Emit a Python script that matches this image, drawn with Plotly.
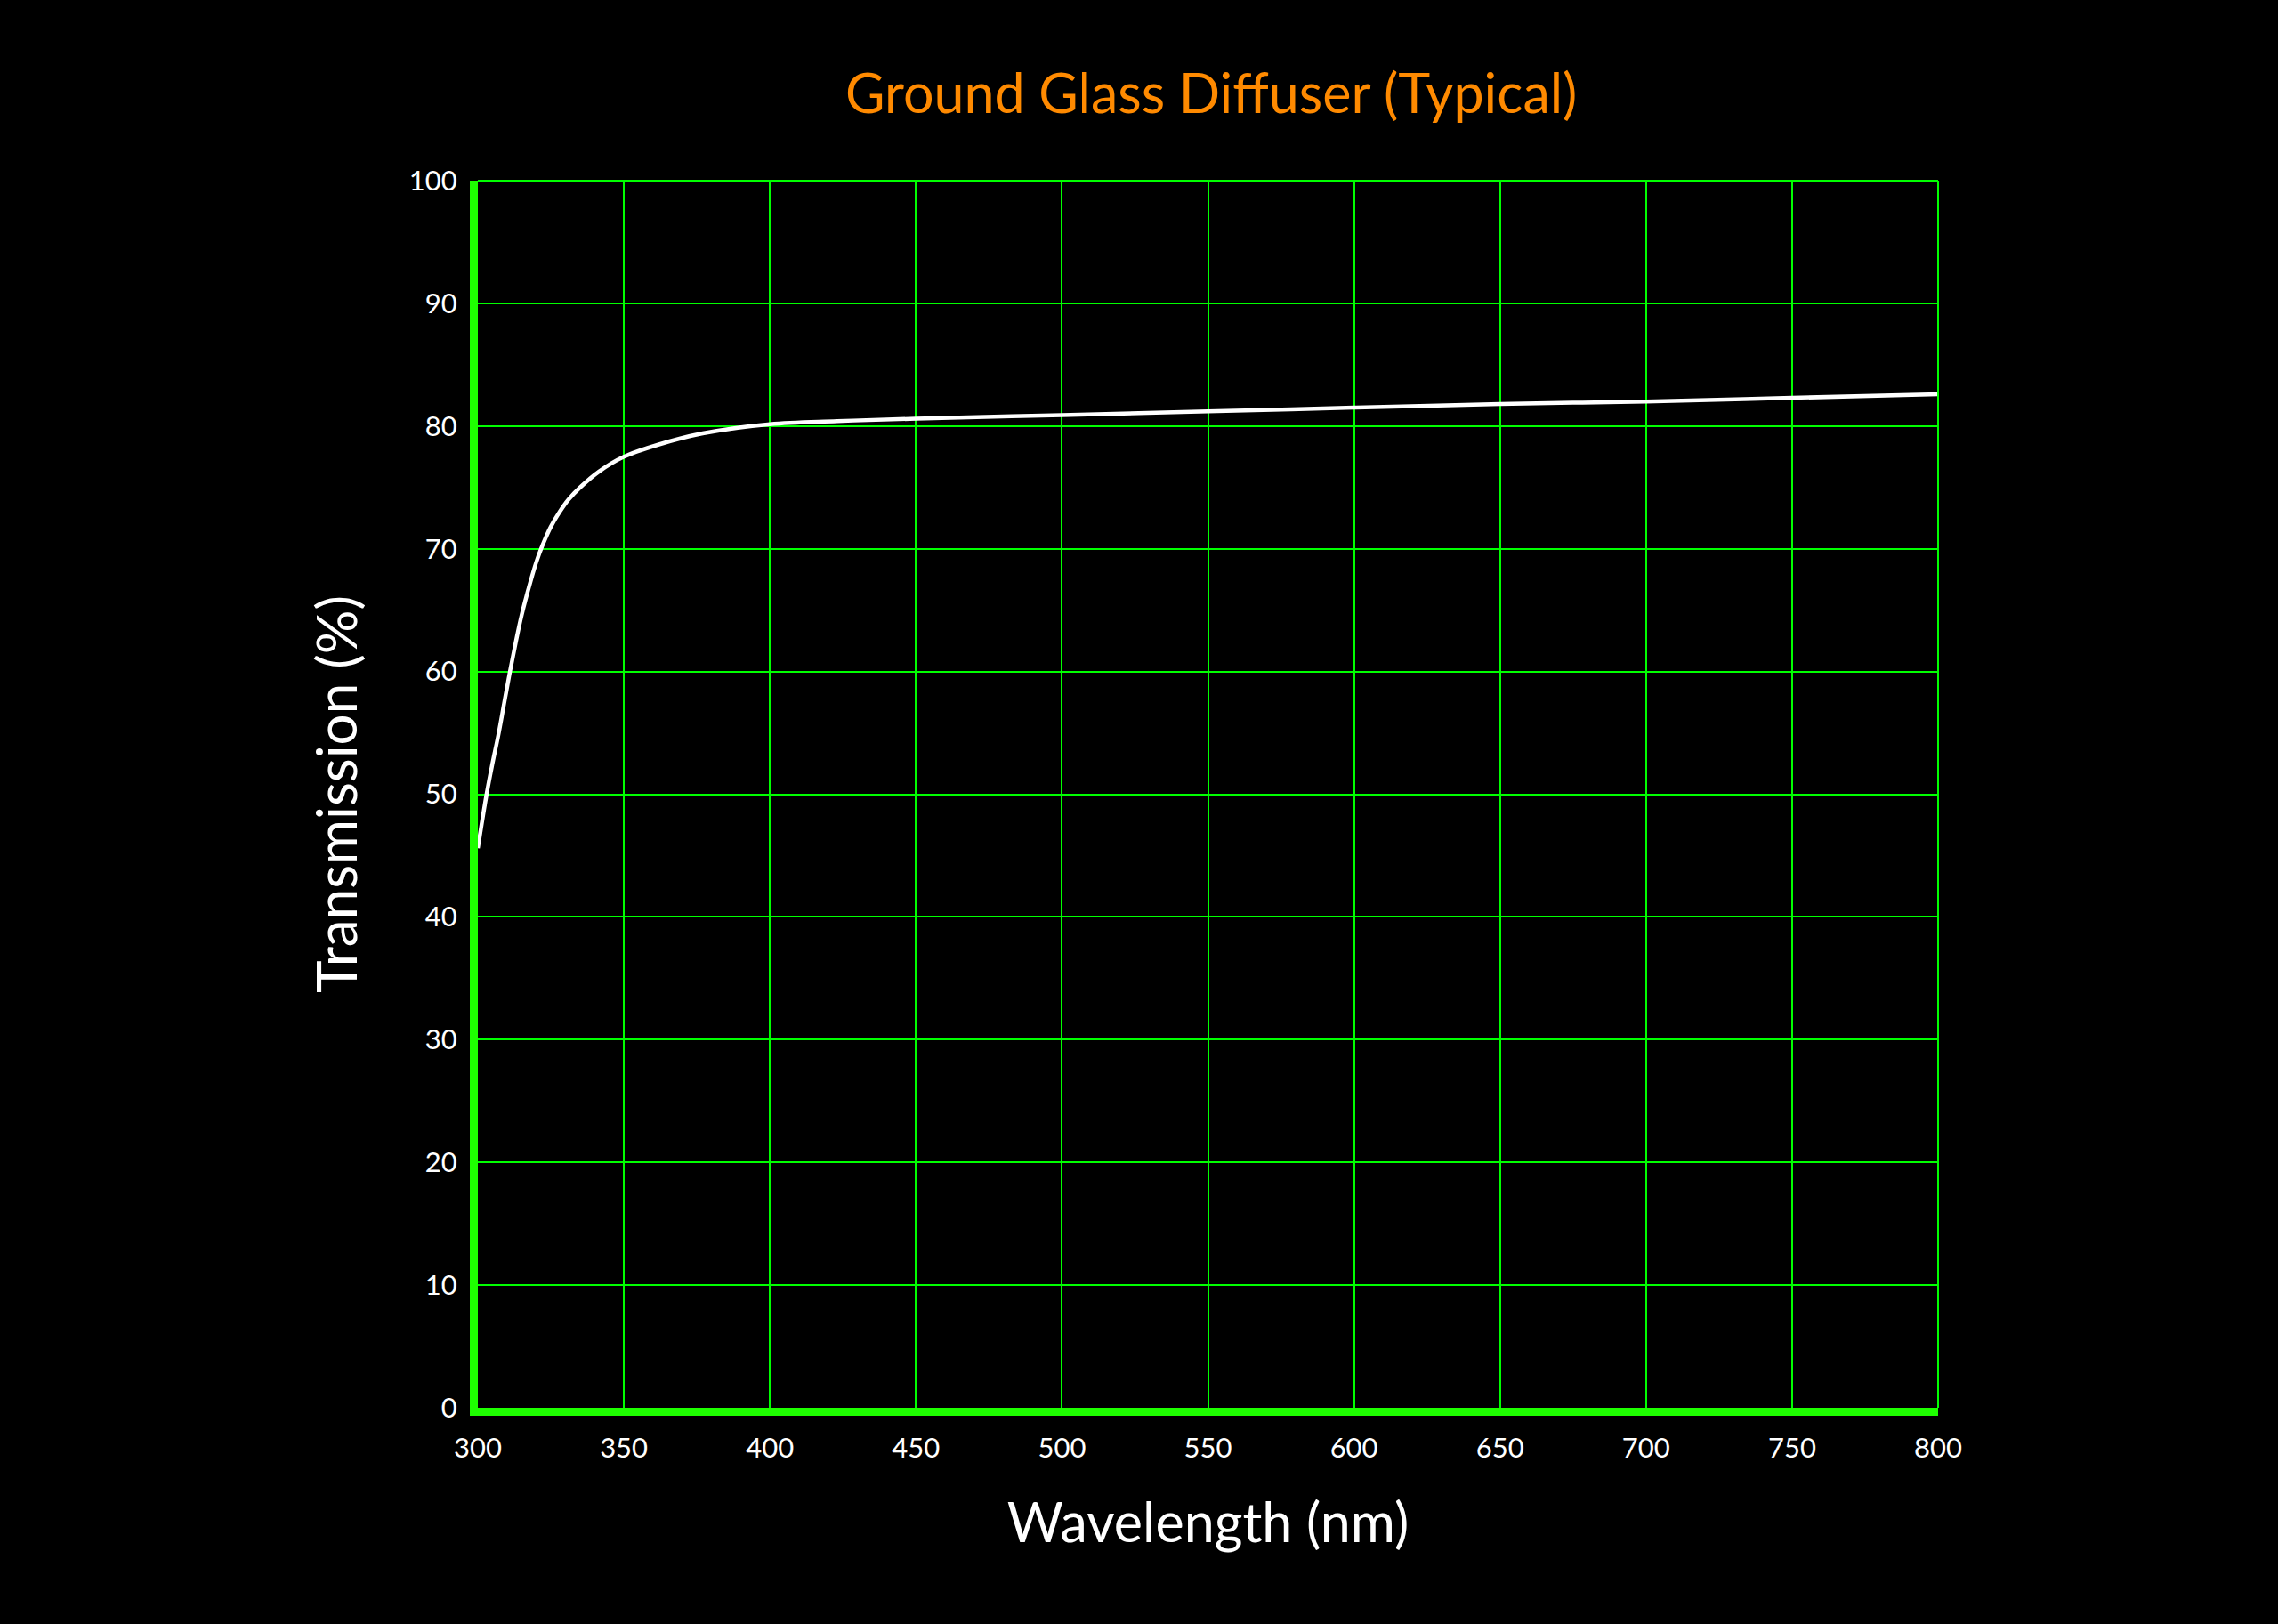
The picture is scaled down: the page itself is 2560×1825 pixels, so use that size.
import plotly.graph_objects as go

# Data
wavelength_nm = [300, 303, 305, 307, 309, 311, 313, 315, 318, 320, 322, 325, 328, 331, 335,
                 341.5, 350, 362, 377, 400, 423, 450, 500, 550, 600, 650, 700, 750, 800]
transmission_pct = [45.6, 50.0, 52.5, 54.8, 57.4, 60.0, 62.4, 64.6, 67.3, 68.9, 70.2, 71.8, 73.0,
                    74.0, 75.0, 76.3, 77.5, 78.5, 79.4, 80.15, 80.4, 80.6, 80.9, 81.2, 81.5,
                    81.8, 82.0, 82.3, 82.6]

x_ticks = [300, 350, 400, 450, 500, 550, 600, 650, 700, 750, 800]
y_ticks = [0, 10, 20, 30, 40, 50, 60, 70, 80, 90, 100]

title_text = "Ground Glass Diffuser (Typical)"
x_title = "Wavelength (nm)"
y_title = "Transmission (%)"

FONT = "Lato"
GRID = "#00ff00"
AXIS = "#1eff00"

fig = go.Figure()
fig.add_trace(go.Scatter(
    x=wavelength_nm, y=transmission_pct, mode="lines",
    line=dict(color="white", width=4.5, shape="spline", smoothing=1.0),
    hoverinfo="x+y", showlegend=False,
))

fig.update_layout(
    width=2560, height=1825,
    paper_bgcolor="black", plot_bgcolor="black",
    margin=dict(l=537, r=382, t=203, b=243, autoexpand=False),
    title=dict(text=title_text, x=0.5317, xanchor="center", y=1 - 106 / 1825, yanchor="middle",
               font=dict(family=FONT, size=61, color="#ff8a00")),
    font=dict(family=FONT, color="white"),
    shapes=[
        dict(type="line", xref="paper", yref="paper", x0=0, x1=1, y0=1, y1=1,
             line=dict(color=GRID, width=2), layer="above"),
        dict(type="line", xref="paper", yref="paper", x0=1, x1=1, y0=0, y1=1,
             line=dict(color=GRID, width=2), layer="above"),
    ],
)

fig.update_xaxes(
    range=[300, 800], tickvals=x_ticks, ticktext=[str(v) for v in x_ticks],
    showgrid=True, gridcolor=GRID, gridwidth=2,
    showline=True, linecolor=AXIS, linewidth=9,
    zeroline=False, ticks="outside", ticklen=10, tickcolor="rgba(0,0,0,0)",
    tickfont=dict(family=FONT, size=31, color="white"),
    title=dict(text=x_title, standoff=50, font=dict(family=FONT, size=61, color="white")),
)
fig.update_yaxes(
    range=[0, 100], tickvals=y_ticks, ticktext=[str(v) for v in y_ticks],
    showgrid=True, gridcolor=GRID, gridwidth=2,
    showline=True, linecolor=AXIS, linewidth=9,
    zeroline=False, ticks="outside", ticklen=8, tickcolor="rgba(0,0,0,0)",
    tickfont=dict(family=FONT, size=31, color="white"),
    title=dict(text=y_title, standoff=42, font=dict(family=FONT, size=62, color="white")),
)

fig.write_html(
    "out.html",
    config={"displayModeBar": False},
    post_script="document.body.style.margin='0';document.body.style.background='black';",
)
